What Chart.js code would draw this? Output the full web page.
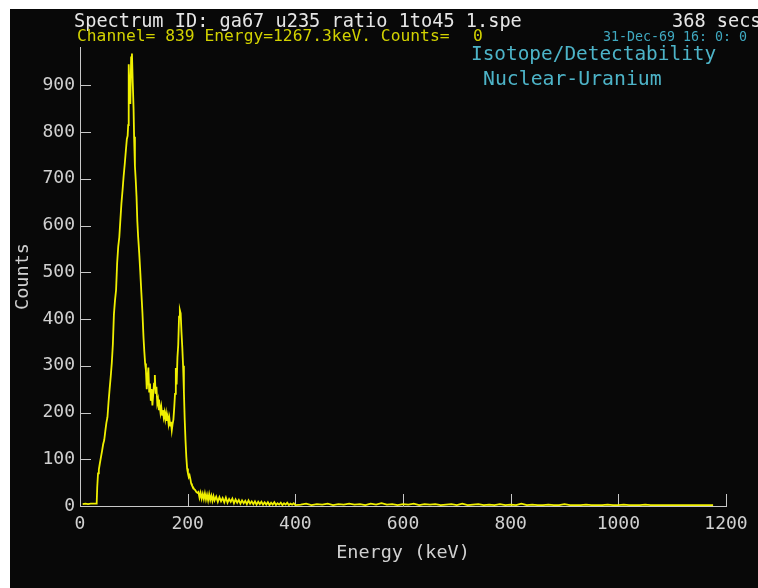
<!DOCTYPE html>
<html>
<head>
<meta charset="utf-8">
<title>Spectrum ga67 u235</title>
<script src="https://cdn.jsdelivr.net/npm/chart.js@4"></script>
<style>
  html, body { margin: 0; padding: 0; background: #ffffff; }
  #spectrum { position: absolute; left: 10px; top: 9px; background: #080808; }
</style>
</head>
<body>
<canvas id="spectrum" width="748" height="579"></canvas>
<script>
// spectrum, low energy side up to the 98 keV complex
const energyLow = [5, 10, 15, 20, 25, 30, 31, 32, 33.5, 35, 37, 39, 41, 43, 45, 47, 49, 51, 53, 55, 57, 59, 61, 63, 65, 67, 69, 71, 73, 75, 77, 79, 81, 83, 85, 87, 88.5, 89.5, 90.5, 92, 93.5, 95, 96.5, 98, 99.5];
const countsLow = [4, 5, 4, 5, 5, 5, 6, 40, 70, 78, 92, 105, 118, 132, 141, 160, 178, 190, 222, 250, 276, 305, 345, 410, 440, 462, 520, 555, 575, 612, 648, 675, 705, 730, 758, 785, 792, 815, 945, 880, 860, 960, 968, 905, 850];

// falling edge, 144 keV shoulder and the 186 keV line
const energyMid = [100.5, 102, 103.5, 105, 106.5, 108, 110, 112, 114, 116, 118, 119.5, 121, 122.5, 124, 125.5, 127, 128.5, 130, 131.5, 133, 134.5, 136, 137.5, 139, 140.5, 142, 143.5, 145, 146.5, 148, 149.5, 151, 152.5, 154, 155.5, 157, 158.5, 160, 161.5, 163, 164.5, 166, 167.5, 169, 170.5, 172, 173.5, 175, 176.5, 178, 179.5, 181, 182.5, 184, 185.5, 187, 188.5, 190, 191.5, 193, 194.5, 196, 197.5, 199, 200.5, 202, 203.5, 205, 206.5, 208, 210, 212, 214, 216, 218];
const countsMid = [790, 728, 698, 662, 609, 576, 541, 500, 456, 413, 360, 330, 305, 290, 250, 275, 296, 245, 262, 225, 250, 215, 240, 262, 280, 240, 255, 220, 228, 205, 215, 200, 212, 195, 205, 190, 200, 186, 198, 182, 192, 176, 188, 172, 180, 162, 175, 185, 210, 240, 295, 260, 318, 345, 405, 419, 412, 372, 340, 300, 245, 185, 140, 105, 80, 70, 62, 66, 58, 48, 44, 40, 36, 34, 30, 28];

// continuum tail
const energyTail = [220, 222, 224, 226, 228, 230, 232, 234, 236, 238, 240, 242, 244, 246, 248, 250, 253, 256, 259, 262, 265, 268, 271, 274, 277, 280, 283, 286, 289, 292, 295, 298, 301, 304, 307, 310, 313, 316, 319, 322, 325, 328, 331, 334, 337, 340, 343, 346, 349, 352, 355, 358, 361, 364, 367, 370, 373, 376, 379, 382, 385, 388, 391, 394, 397, 400];
const countsTail = [30, 18, 28, 16, 26, 15, 27, 14, 24, 12, 25, 13, 22, 11, 21, 12, 20, 9, 19, 10, 17, 8, 18, 7, 15, 9, 16, 6, 14, 7, 13, 5, 12, 6, 11, 4, 12, 5, 10, 4, 10, 3, 9, 4, 9, 3, 8, 3, 8, 2, 7, 3, 8, 2, 6, 3, 7, 2, 6, 3, 7, 2, 5, 3, 6, 2];

const energyHigh = [410, 420, 430, 440, 450, 460, 470, 480, 490, 500, 510, 520, 530, 540, 550, 560, 570, 580, 590, 600, 610, 620, 630, 640, 650, 660, 670, 680, 690, 700, 710, 720, 730, 740, 750, 760, 770, 780, 790, 800, 810, 820, 830, 840, 850, 860, 870, 880, 890, 900, 910, 920, 930, 940, 950, 960, 970, 980, 990, 1000, 1010, 1020, 1030, 1040, 1050, 1060, 1070, 1080, 1090, 1100, 1110, 1120, 1130, 1140, 1150, 1160, 1170, 1176];
const countsHigh = [3, 5, 2, 4, 3, 5, 2, 4, 3, 5, 3, 4, 2, 5, 3, 6, 3, 4, 2, 4, 3, 5, 2, 4, 3, 4, 2, 3, 4, 2, 5, 2, 3, 4, 2, 3, 2, 4, 2, 3, 2, 5, 2, 3, 2, 2, 3, 2, 2, 4, 2, 2, 2, 3, 2, 2, 2, 3, 2, 2, 3, 2, 2, 2, 3, 2, 2, 2, 2, 2, 2, 2, 2, 2, 2, 2, 2, 2];

const xTicks = [0, 200, 400, 600, 800, 1000, 1200];
const yTicks = [0, 100, 200, 300, 400, 500, 600, 700, 800, 900];

const energy = energyLow.concat(energyMid, energyTail, energyHigh);
const counts = countsLow.concat(countsMid, countsTail, countsHigh);

const mono = "'DejaVu Sans Mono', 'Liberation Mono', monospace";
const axisColor = "#c8c8c8";
const labelColor = "#d0d0d0";
const traceColor = "#f0f000";

// tick marks point into the plot
const inwardTicks = {
	id: "inwardTicks",
	beforeDatasetsDraw(chart) {
		const { ctx, chartArea, scales } = chart;
		ctx.save();
		ctx.strokeStyle = axisColor;
		ctx.lineWidth = 1;
		ctx.beginPath();
		yTicks.forEach((v) => {
			const y = Math.round(scales.y.getPixelForValue(v)) + 0.5;
			ctx.moveTo(chartArea.left, y);
			ctx.lineTo(chartArea.left + 11, y);
		});
		xTicks.forEach((v) => {
			const x = Math.round(scales.x.getPixelForValue(v)) + 0.5;
			ctx.moveTo(x, chartArea.bottom);
			ctx.lineTo(x, chartArea.bottom - 12);
		});
		ctx.stroke();
		ctx.restore();
	},
};

// status lines above the plot
const headerText = {
	id: "headerText",
	afterDraw(chart) {
		const ctx = chart.ctx;
		const put = (text, x, y, size, color) => {
			ctx.font = size + "px " + mono;
			ctx.fillStyle = color;
			ctx.fillText(text, x, y);
		};
		ctx.save();
		ctx.textBaseline = "middle";
		ctx.textAlign = "left";
		put("Spectrum ID: ga67 u235 ratio 1to45 1.spe", 64, 13, 18.6, "#e6e6e6");
		put("368 secs", 662, 13, 18.6, "#e6e6e6");
		put("Channel= 839 Energy=1267.3keV. Counts=", 67, 28, 16.3, "#d2d200");
		put("0", 463, 28, 16.3, "#d2d200");
		put("31-Dec-69 16: 0: 0", 593, 29, 13.3, "#3fa9c0");
		put("Isotope/Detectability", 461, 46, 19.4, "#4db4c8");
		put("Nuclear-Uranium", 473, 71, 19.8, "#4db4c8");
		ctx.restore();
	},
};

const ctx = document.getElementById("spectrum").getContext("2d");
new Chart(ctx, {
	type: "line",
	data: {
		datasets: [
			{
				data: energy.map((e, i) => ({ x: e, y: counts[i] })),
				borderColor: traceColor,
				borderWidth: 1.8,
				pointRadius: 0,
				tension: 0,
				fill: false,
			},
		],
	},
	options: {
		responsive: false,
		animation: false,
		devicePixelRatio: 1,
		layout: { padding: { left: 0, right: 32, top: 38, bottom: 0 } },
		plugins: {
			legend: { display: false },
			tooltip: { enabled: false },
		},
		scales: {
			x: {
				type: "linear",
				min: 0,
				max: 1200,
				afterBuildTicks: (s) => {
					s.ticks = xTicks.map((v) => ({ value: v }));
				},
				afterFit: (s) => {
					s.height = 82;
					s.paddingLeft = 0;
					s.paddingRight = 0;
				},
				grid: { display: false, drawTicks: false },
				border: { display: true, color: axisColor, width: 1 },
				ticks: {
					color: labelColor,
					font: { family: mono, size: 18 },
					padding: 8,
					maxRotation: 0,
					autoSkip: false,
					callback: (value) => String(value),
				},
				title: {
					display: true,
					text: "Energy (keV)",
					color: labelColor,
					font: { family: mono, size: 18.5 },
					padding: { top: 0, bottom: 24 },
				},
			},
			y: {
				type: "linear",
				min: 0,
				max: 982,
				afterBuildTicks: (s) => {
					s.ticks = yTicks.map((v) => ({ value: v }));
				},
				afterFit: (s) => {
					s.width = 70;
					s.paddingTop = 0;
					s.paddingBottom = 0;
				},
				grid: { display: false, drawTicks: false },
				border: { display: true, color: axisColor, width: 1 },
				ticks: {
					color: labelColor,
					font: { family: mono, size: 18 },
					padding: 5,
					callback: (value) => String(value),
				},
				title: {
					display: true,
					text: "Counts",
					color: labelColor,
					font: { family: mono, size: 18.5 },
					padding: { top: 2, bottom: 0 },
				},
			},
		},
	},
	plugins: [inwardTicks, headerText],
});
</script>
</body>
</html>
